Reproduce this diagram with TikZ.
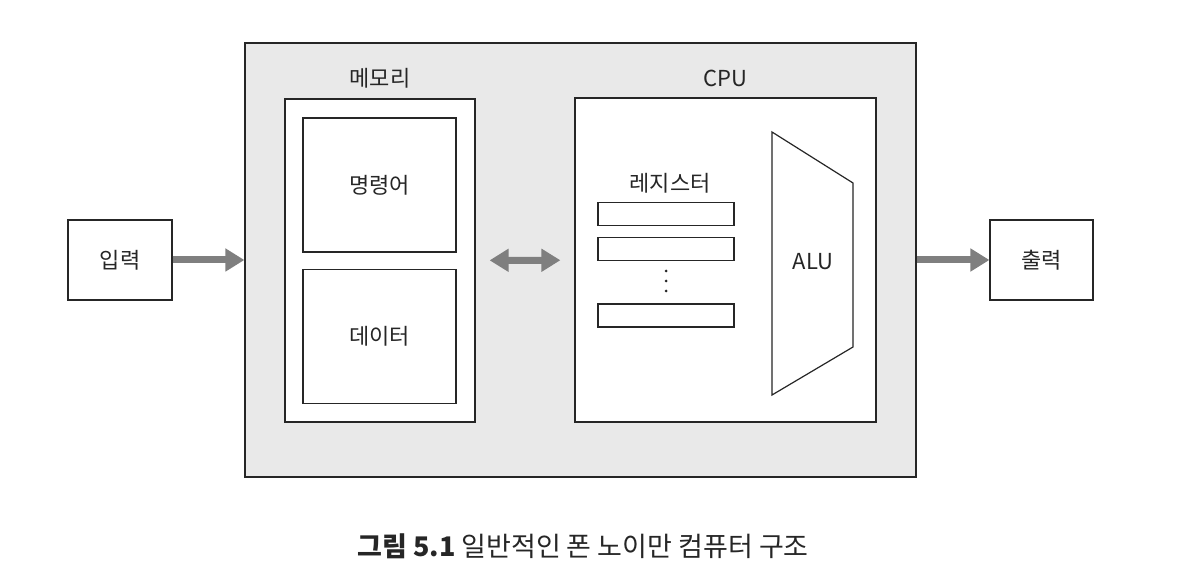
\documentclass[tikz,border=0pt]{standalone}
\usepackage{fontspec}
\newfontfamily\kr{Noto Sans CJK KR}
\usetikzlibrary{calc,positioning,shapes}
\usetikzlibrary{arrows.meta}
\tikzstyle{every node}=[line width=1.2pt]
\tikzset{>={Triangle[width=22pt,length=19pt]}}
\definecolor{boxgray}{HTML}{E9E9E9}
\definecolor{arrgray}{HTML}{7F7F7F}

\begin{document}
\begin{tikzpicture}[x=1pt,y=-1pt]
          \tikzstyle{bnode} = [draw=black!85, rectangle, fill=white, inner sep=0pt, text=black!85, font=\kr\fontsize{22}{26}\selectfont]
          \tikzstyle{lnode} = [inner sep=0pt, text=black!85, font=\kr\fontsize{22}{26}\selectfont]
          \tikzstyle{rnode} = [draw=black!85, rectangle, fill=white, inner sep=0pt, minimum width=136pt, minimum height=23pt]
          \tikzstyle{flow} = [->, line width=7pt, draw=arrgray, fill=arrgray]
          \useasboundingbox (0,0) rectangle (1192,588);

          \node[bnode, fill=boxgray, minimum width=671pt, minimum height=434pt] (sys) at (580.5,260) {};
          \node[bnode, minimum width=104pt, minimum height=80pt] (inp) at (120,260) {입력};
          \node[bnode, minimum width=103pt, minimum height=80pt] (outp) at (1041.5,260) {출력};

          \node[bnode, minimum width=190pt, minimum height=323pt] (mem) at (380,260.5) {};
          \node[lnode] (meml) at (380,78) {메모리};
          \node[bnode, minimum width=153pt, minimum height=134pt] (instr) at (379.5,185) {명령어};
          \node[bnode, minimum width=153pt, minimum height=134pt, below = 16pt of instr] (dat) {데이터};

          \node[bnode, minimum width=301pt, minimum height=324pt] (cpu) at (725.5,260) {};
          \node[lnode] (cpul) at (725.5,78) {CPU};
          \node[lnode] (regl) at (670,183) {레지스터};
          \node[rnode] (reg1) at (666,214) {};
          \node[rnode, below = 10.5pt of reg1] (reg2) {};
          \node[rnode] (reg3) at (666,315.5) {};
          \foreach \y in {271,281,291}
            \fill[black!85] (666,\y) circle (1.5pt);

          \draw[black!85, line width=1.2pt] (772,132) -- (853,183) -- (853,347) -- (772,395) -- cycle;
          \node[lnode] (alu) at (813,262) {ALU};

          \draw[flow] (inp) -- (sys);
          \draw[flow, <->, shorten >=14pt, shorten <=14pt] (mem) -- (cpu);
          \draw[flow] (sys) -- (outp);

          \node[inner sep=0pt, text=black!85, font=\kr\fontsize{27}{32}\selectfont] (cap) at (583,546) {\textbf{그림 5.1} 일반적인 폰 노이만 컴퓨터 구조};
\end{tikzpicture}
\end{document}
